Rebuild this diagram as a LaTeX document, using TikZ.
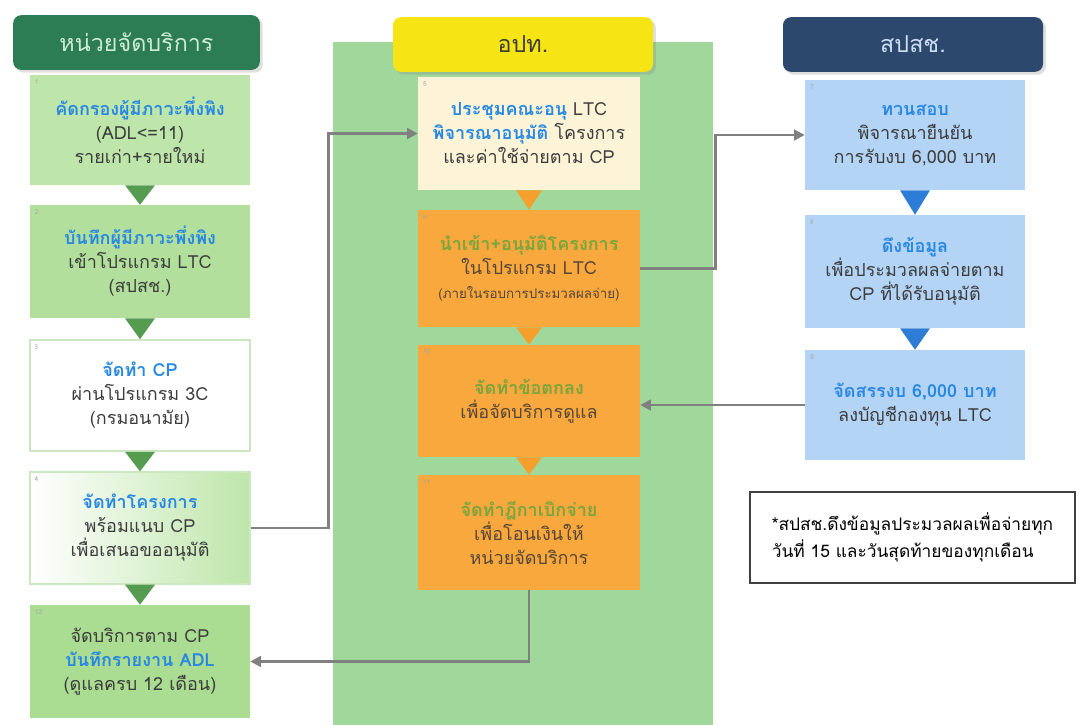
\documentclass[tikz,border=0pt]{standalone}
\usepackage{fontspec}
\newfontfamily\thaifont[Script=Thai]{Loma}
\usetikzlibrary{arrows.meta,calc,shadows}
\definecolor{hdgreen}{RGB}{44,125,84}
\definecolor{hdgtext}{RGB}{205,236,210}
\definecolor{hdyellow}{RGB}{247,228,20}
\definecolor{hdnavy}{RGB}{44,72,108}
\definecolor{hdntext}{RGB}{205,224,246}
\definecolor{tblue}{RGB}{40,136,226}
\definecolor{bodygray}{RGB}{60,60,60}
\definecolor{lg1}{RGB}{190,230,170}
\definecolor{lg2}{RGB}{178,224,156}
\definecolor{lg5}{RGB}{170,220,145}
\definecolor{lgborder}{RGB}{205,232,192}
\definecolor{midbg}{RGB}{160,216,156}
\definecolor{cream}{RGB}{253,244,216}
\definecolor{orangebox}{RGB}{249,168,62}
\definecolor{orangetri}{RGB}{245,160,45}
\definecolor{otitle}{RGB}{120,165,60}
\definecolor{obody}{RGB}{85,70,55}
\definecolor{bluebox}{RGB}{180,212,245}
\definecolor{bluetri}{RGB}{45,125,215}
\definecolor{greentri}{RGB}{85,155,80}
\definecolor{conngray}{RGB}{128,128,128}
\begin{document}
\begin{tikzpicture}[x=0.75pt,y=-0.75pt,
  font=\thaifont\fontsize{13.5}{18}\selectfont,
  hdr/.style={rounded corners=6pt, minimum width=195pt, minimum height=41pt,
    font=\thaifont\fontsize{17.5}{20}\selectfont, drop shadow={opacity=0.25}},
  box/.style={minimum width=165pt, align=center, text=bodygray, inner sep=2pt},
  num/.style={anchor=north west, inner sep=0pt, font=\thaifont\fontsize{5}{6}\selectfont, text=gray!70},
  conn/.style={draw=conngray, line width=2.2pt, -{Triangle[length=8pt,width=8pt]}}
]
\useasboundingbox (0,0) rectangle (1079,725);
\fill[white] (0,0) rectangle (1079,725);

% middle background
\fill[midbg] (333,42) rectangle (713,725);

% headers
\node[hdr, fill=hdgreen, text=hdgtext, minimum width=185pt] (h1) at (136.5,42.5) {หน่วยจัดบริการ};
\node[hdr, fill=hdyellow, text=bodygray] (h2) at (523,44.5) {อปท.};
\node[hdr, fill=hdnavy, text=hdntext] (h3) at (913,44.5) {สปสช.};

% left column
\node[box, fill=lg1, minimum height=82.5pt] (b1) at (140,130)
  {{\color{tblue}\bfseries คัดกรองผู้มีภาวะพึ่งพิง}\\(ADL<=11)\\รายเก่า+รายใหม่};
\node[box, fill=lg2, minimum height=84.75pt] (b2) at (140,261.5)
  {{\color{tblue}\bfseries บันทึกผู้มีภาวะพึ่งพิง}\\เข้าโปรแกรม LTC\\(สปสช.)};
\node[box, fill=white, draw=lgborder, line width=1.2pt, minimum height=83.25pt] (b3) at (140,395.5)
  {{\color{tblue}\bfseries จัดทำ CP}\\ผ่านโปรแกรม 3C\\(กรมอนามัย)};
\node[box, left color=white, right color=lg1, draw=lgborder, line width=1pt, minimum height=84pt] (b4) at (140,528)
  {{\color{tblue}\bfseries จัดทำโครงการ}\\พร้อมแนบ CP\\เพื่อเสนอขออนุมัติ};
\node[box, fill=lg5, minimum height=84.75pt] (b5) at (140,661.5)
  {จัดบริการตาม CP\\{\color{tblue}\bfseries บันทึกรายงาน ADL}\\(ดูแลครบ 12 เดือน)};

% middle column
\node[box, fill=cream, minimum width=166.5pt, minimum height=84.75pt] (m1) at (529,133.5)
  {{\color{tblue}\bfseries ประชุมคณะอนุ} LTC\\{\color{tblue}\bfseries พิจารณาอนุมัติ} โครงการ\\และค่าใช้จ่ายตาม CP};
\node[box, fill=orangebox, text=obody, minimum width=166.5pt, minimum height=87.75pt] (m2) at (529,268.5)
  {{\color{otitle}\bfseries นำเข้า+อนุมัติโครงการ}\\ในโปรแกรม LTC\\{\fontsize{10}{14}\selectfont (ภายในรอบการประมวลผลจ่าย)}};
\node[box, fill=orangebox, text=obody, minimum width=166.5pt, minimum height=84pt] (m3) at (529,401)
  {{\color{otitle}\bfseries จัดทำข้อตกลง}\\เพื่อจัดบริการดูแล};
\node[box, fill=orangebox, text=obody, minimum width=166.5pt, minimum height=86.25pt] (m4) at (529,532.5)
  {{\color{otitle}\bfseries จัดทำฎีกาเบิกจ่าย}\\เพื่อโอนเงินให้\\หน่วยจัดบริการ};

% right column
\node[box, fill=bluebox, minimum height=82.5pt] (r1) at (915,135)
  {{\color{tblue}\bfseries ทวนสอบ}\\พิจารณายืนยัน\\การรับงบ 6,000 บาท};
\node[box, fill=bluebox, minimum height=84.75pt] (r2) at (915,271.5)
  {{\color{tblue}\bfseries ดึงข้อมูล}\\เพื่อประมวลผลจ่ายตาม\\CP ที่ได้รับอนุมัติ};
\node[box, fill=bluebox, minimum height=82.5pt] (r3) at (915,405)
  {{\color{tblue}\bfseries จัดสรรงบ 6,000 บาท}\\ลงบัญชีกองทุน LTC};

% note
\node[draw=black!75, line width=1pt, minimum width=243.75pt, minimum height=68.25pt,
  align=left, text=black, font=\thaifont\fontsize{13}{20}\selectfont] (note) at (912.5,537.5)
  {*สปสช.ดึงข้อมูลประมวลผลเพื่อจ่ายทุก\\วันที่ 15 และวันสุดท้ายของทุกเดือน};

% step numbers
\foreach \n/\t in {b1/1,b2/2,b3/3,b4/4,b5/12,m1/5,m2/6,m3/10,m4/11,r1/7,r2/8,r3/9}
  \node[num] at ($(\n.north west)+(5,5)$) {\t};

% triangles
\foreach \a/\b in {b1/b2,b2/b3,b3/b4,b4/b5}
  \fill[greentri] ($(\a.south)+(-15,0)$) -- ($(\a.south)+(15,0)$) -- (\b.north) -- cycle;
\foreach \a/\b in {m1/m2,m2/m3,m3/m4}
  \fill[orangetri] ($(\a.south)+(-13,0)$) -- ($(\a.south)+(13,0)$) -- (\b.north) -- cycle;
\foreach \a/\b in {r1/r2,r2/r3}
  \fill[bluetri] ($(\a.south)+(-15,0)$) -- ($(\a.south)+(15,0)$) -- (\b.north) -- cycle;

% connectors
\draw[conn] (b4.east) -- ++(78,0) |- (m1.west);
\draw[conn] (m2.east) -- ++(75,0) |- (r1.west);
\draw[conn] (r3.west) -- (r3.west -| m3.east);
\draw[conn] (m4.south) |- (b5.east);
\end{tikzpicture}
\end{document}
